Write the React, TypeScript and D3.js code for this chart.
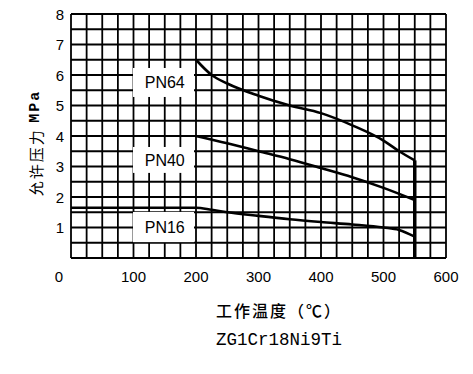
import React from "react";
import { scaleLinear, line, curveMonotoneX, range } from "d3";

// 允许压力-温度曲线 ZG1Cr18Ni9Ti
const pn64Temp = [200, 225, 250, 300, 350, 400, 450, 500, 525, 550];
const pn64Press = [6.5, 6.0, 5.72, 5.32, 5.0, 4.75, 4.35, 3.85, 3.5, 3.2];

const pn40Temp = [200, 250, 300, 350, 400, 450, 500, 550];
const pn40Press = [4.0, 3.76, 3.5, 3.24, 2.95, 2.65, 2.3, 1.9];

const pn16Temp = [0, 200, 225, 250, 300, 350, 400, 450, 500, 525, 550];
const pn16Press = [1.65, 1.65, 1.58, 1.5, 1.38, 1.27, 1.18, 1.1, 1.0, 0.92, 0.7];

const xTicks = [0, 100, 200, 300, 400, 500, 600];
const yTicks = [1, 2, 3, 4, 5, 6, 7, 8];
const labels = [
  { text: "PN64", t: 150, p: 5.75, lo: 5.28, hi: 6.23 },
  { text: "PN40", t: 150, p: 3.2, lo: 2.79, hi: 3.64 },
  { text: "PN16", t: 150, p: 1.0, lo: 0.52, hi: 1.51 },
];
const limitTemp = 550;

export default function App() {
  const W = 473;
  const H = 374;
  const x = scaleLinear().domain([0, 600]).range([71, 446]);
  const y = scaleLinear().domain([0, 8]).range([258, 14]);

  const gen = line<[number, number]>()
    .x((d) => x(d[0]))
    .y((d) => y(d[1]))
    .curve(curveMonotoneX);

  const zip = (a: number[], b: number[]) => a.map((v, i) => [v, b[i]] as [number, number]);

  const vGrid = range(0, 601, 25);
  const hGrid = range(0, 8.01, 0.5);

  return (
    <svg
      width={W}
      height={H}
      style={{ position: "absolute", left: 0, top: 0, background: "#fff" }}
    >
      <rect width={W} height={H} fill="#fff" />
      {/* grid */}
      <g stroke="#000" strokeWidth={1.8}>
        {vGrid.map((t) => (
          <line key={"v" + t} x1={x(t)} x2={x(t)} y1={y(0)} y2={y(8)} />
        ))}
        {hGrid.map((p) => (
          <line key={"h" + p} x1={x(0)} x2={x(600)} y1={y(p)} y2={y(p)} />
        ))}
      </g>
      {/* label boxes */}
      {labels.map((l) => (
        <g key={l.text}>
          <rect
            x={x(100) - 0.5}
            width={x(200) - x(100) - 1.5}
            y={y(l.hi)}
            height={y(l.lo) - y(l.hi)}
            fill="#fff"
          />
          <text
            x={x(l.t)}
            y={y(l.p)}
            textAnchor="middle"
            dominantBaseline="central"
            fontFamily="Liberation Sans, Arial, sans-serif"
            fontSize={16}
          >
            {l.text}
          </text>
        </g>
      ))}
      {/* curves */}
      <g fill="none" stroke="#000" strokeWidth={2.6}>
        <path d={gen(zip(pn64Temp, pn64Press)) || ""} />
        <path d={gen(zip(pn40Temp, pn40Press)) || ""} />
        <path d={gen(zip(pn16Temp, pn16Press)) || ""} />
      </g>
      <line
        x1={x(limitTemp)}
        x2={x(limitTemp)}
        y1={y(pn64Press[pn64Press.length - 1])}
        y2={y(0)}
        stroke="#000"
        strokeWidth={3.5}
      />
      {/* axes labels */}
      <g fontFamily="Liberation Sans, Arial, sans-serif" fontSize={15} fill="#000">
        {yTicks.map((v) => (
          <text key={"y" + v} x={64} y={y(v)} textAnchor="end" dominantBaseline="central">
            {v}
          </text>
        ))}
        {xTicks.map((v) => (
          <text
            key={"x" + v}
            x={v === 0 ? x(v) - 12 : x(v)}
            y={276}
            textAnchor="middle"
            dominantBaseline="central"
          >
            {v}
          </text>
        ))}
      </g>
      <text
        transform={`translate(35, 143) rotate(-90)`}
        textAnchor="middle"
        dominantBaseline="central"
        fontFamily="Noto Sans CJK SC, sans-serif"
        fontSize={15}
        letterSpacing={2}
      >
        允许压力 <tspan fontFamily="Liberation Mono, monospace" fontWeight="bold">MPa</tspan>
      </text>
      <text
        x={279}
        y={310}
        textAnchor="middle"
        dominantBaseline="central"
        fontFamily="Noto Sans CJK SC, sans-serif"
        fontSize={16}
        fontWeight={500}
        letterSpacing={2}
      >
        工作温度（℃）
      </text>
      <text
        x={279}
        y={340}
        textAnchor="middle"
        dominantBaseline="central"
        fontFamily="Liberation Mono, monospace"
        fontSize={17.5}
      >
        ZG1Cr18Ni9Ti
      </text>
    </svg>
  );
}
